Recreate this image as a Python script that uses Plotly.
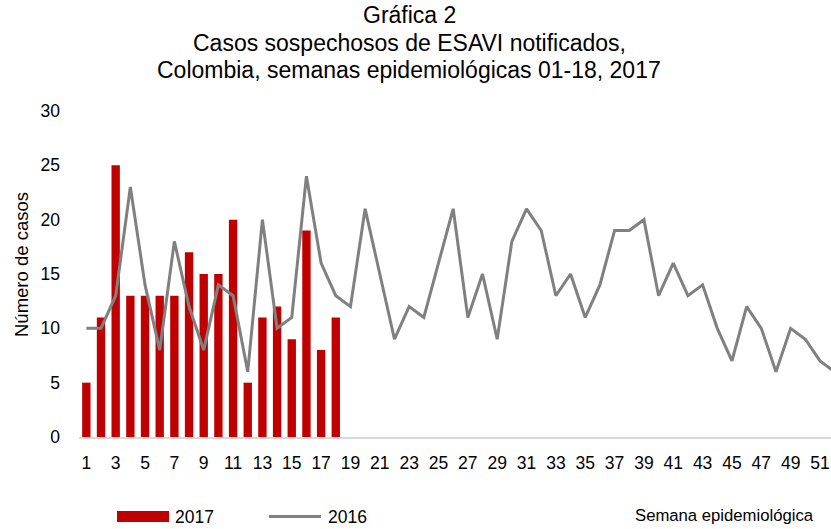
import plotly.graph_objects as go

# semanas epidemiológicas
semanas_2017 = list(range(1, 19))
casos_2017 = [5, 11, 25, 13, 13, 13, 13, 17, 15, 15, 20, 5, 11, 12, 9, 19, 8, 11]

semanas_2016 = list(range(1, 53))
casos_2016 = [10, 10, 13, 23, 14, 8, 18, 12, 8, 14,
              13, 6, 20, 10, 11, 24, 16, 13, 12, 21,
              15, 9, 12, 11, 16, 21, 11, 15, 9, 18,
              21, 19, 13, 15, 11, 14, 19, 19, 20, 13,
              16, 13, 14, 10, 7, 12, 10, 6, 10, 9,
              7, 6]

tick_semanas = list(range(1, 52, 2))

titulo = ["Gráfica 2",
          "Casos sospechosos de ESAVI notificados,",
          "Colombia, semanas epidemiológicas 01-18, 2017"]

FONT = "Liberation Sans, Arial, sans-serif"

# posición del área de trazado en píxeles
W, H = 831, 529
L, R, T, B = 79, 0, 111, 92
PW, PH = W - L - R, H - T - B


def px(x):
    return (x - L) / PW


def py(y):
    return (H - B - y) / PH


fig = go.Figure()

fig.add_trace(go.Bar(x=semanas_2017, y=casos_2017, name="2017",
                     marker_color="#c00000", marker_line_width=0,
                     width=0.57))

fig.add_trace(go.Scatter(x=semanas_2016, y=casos_2016, name="2016",
                         mode="lines", line=dict(color="#808080", width=3)))

fig.update_layout(
    width=W, height=H,
    margin=dict(l=L, r=R, t=T, b=B),
    plot_bgcolor="white", paper_bgcolor="white",
    showlegend=False,
    font=dict(family=FONT, color="#000000"),
)

fig.update_xaxes(range=[0.5, 51.75], tickvals=tick_semanas,
                 showgrid=False, zeroline=False,
                 showline=True, linecolor="#d9d9d9", linewidth=2,
                 ticks="", ticklabelstandoff=9,
                 tickfont=dict(family=FONT, size=17.5, color="#000000"))

fig.update_yaxes(range=[0, 30], dtick=5, showgrid=False, zeroline=False,
                 showline=False, ticks="", ticklabelstandoff=18,
                 tickfont=dict(family=FONT, size=17.5, color="#000000"))

# título en tres líneas
for texto, yy in zip(titulo, [15, 43, 70]):
    fig.add_annotation(text=texto, xref="paper", yref="paper",
                       x=px(409), y=py(yy), showarrow=False,
                       xanchor="center", yanchor="middle",
                       font=dict(family=FONT, size=23, color="#000000"))

# título del eje y
fig.add_annotation(text="Número de casos", textangle=-90,
                   xref="paper", yref="paper", x=px(21), y=py(265),
                   showarrow=False, xanchor="center", yanchor="middle",
                   font=dict(family=FONT, size=18.5, color="#000000"))

# título del eje x
fig.add_annotation(text="Semana epidemiológica",
                   xref="paper", yref="paper", x=px(816), y=py(515),
                   showarrow=False, xanchor="right", yanchor="middle",
                   font=dict(family=FONT, size=16.7, color="#000000"))

# leyenda manual
fig.add_shape(type="rect", xref="paper", yref="paper",
              x0=px(117), x1=px(169), y0=py(522), y1=py(511),
              fillcolor="#c00000", line_width=0)
fig.add_annotation(text="2017", xref="paper", yref="paper",
                   x=px(173), y=py(516.5), showarrow=False,
                   xanchor="left", yanchor="middle",
                   font=dict(family=FONT, size=17.5, color="#000000"))
fig.add_shape(type="line", xref="paper", yref="paper",
              x0=px(269), x1=px(321), y0=py(516.5), y1=py(516.5),
              line=dict(color="#808080", width=3))
fig.add_annotation(text="2016", xref="paper", yref="paper",
                   x=px(326), y=py(516.5), showarrow=False,
                   xanchor="left", yanchor="middle",
                   font=dict(family=FONT, size=17.5, color="#000000"))

fig.write_html("out.html", config={"displayModeBar": False},
               post_script="document.body.style.margin='0px';")
